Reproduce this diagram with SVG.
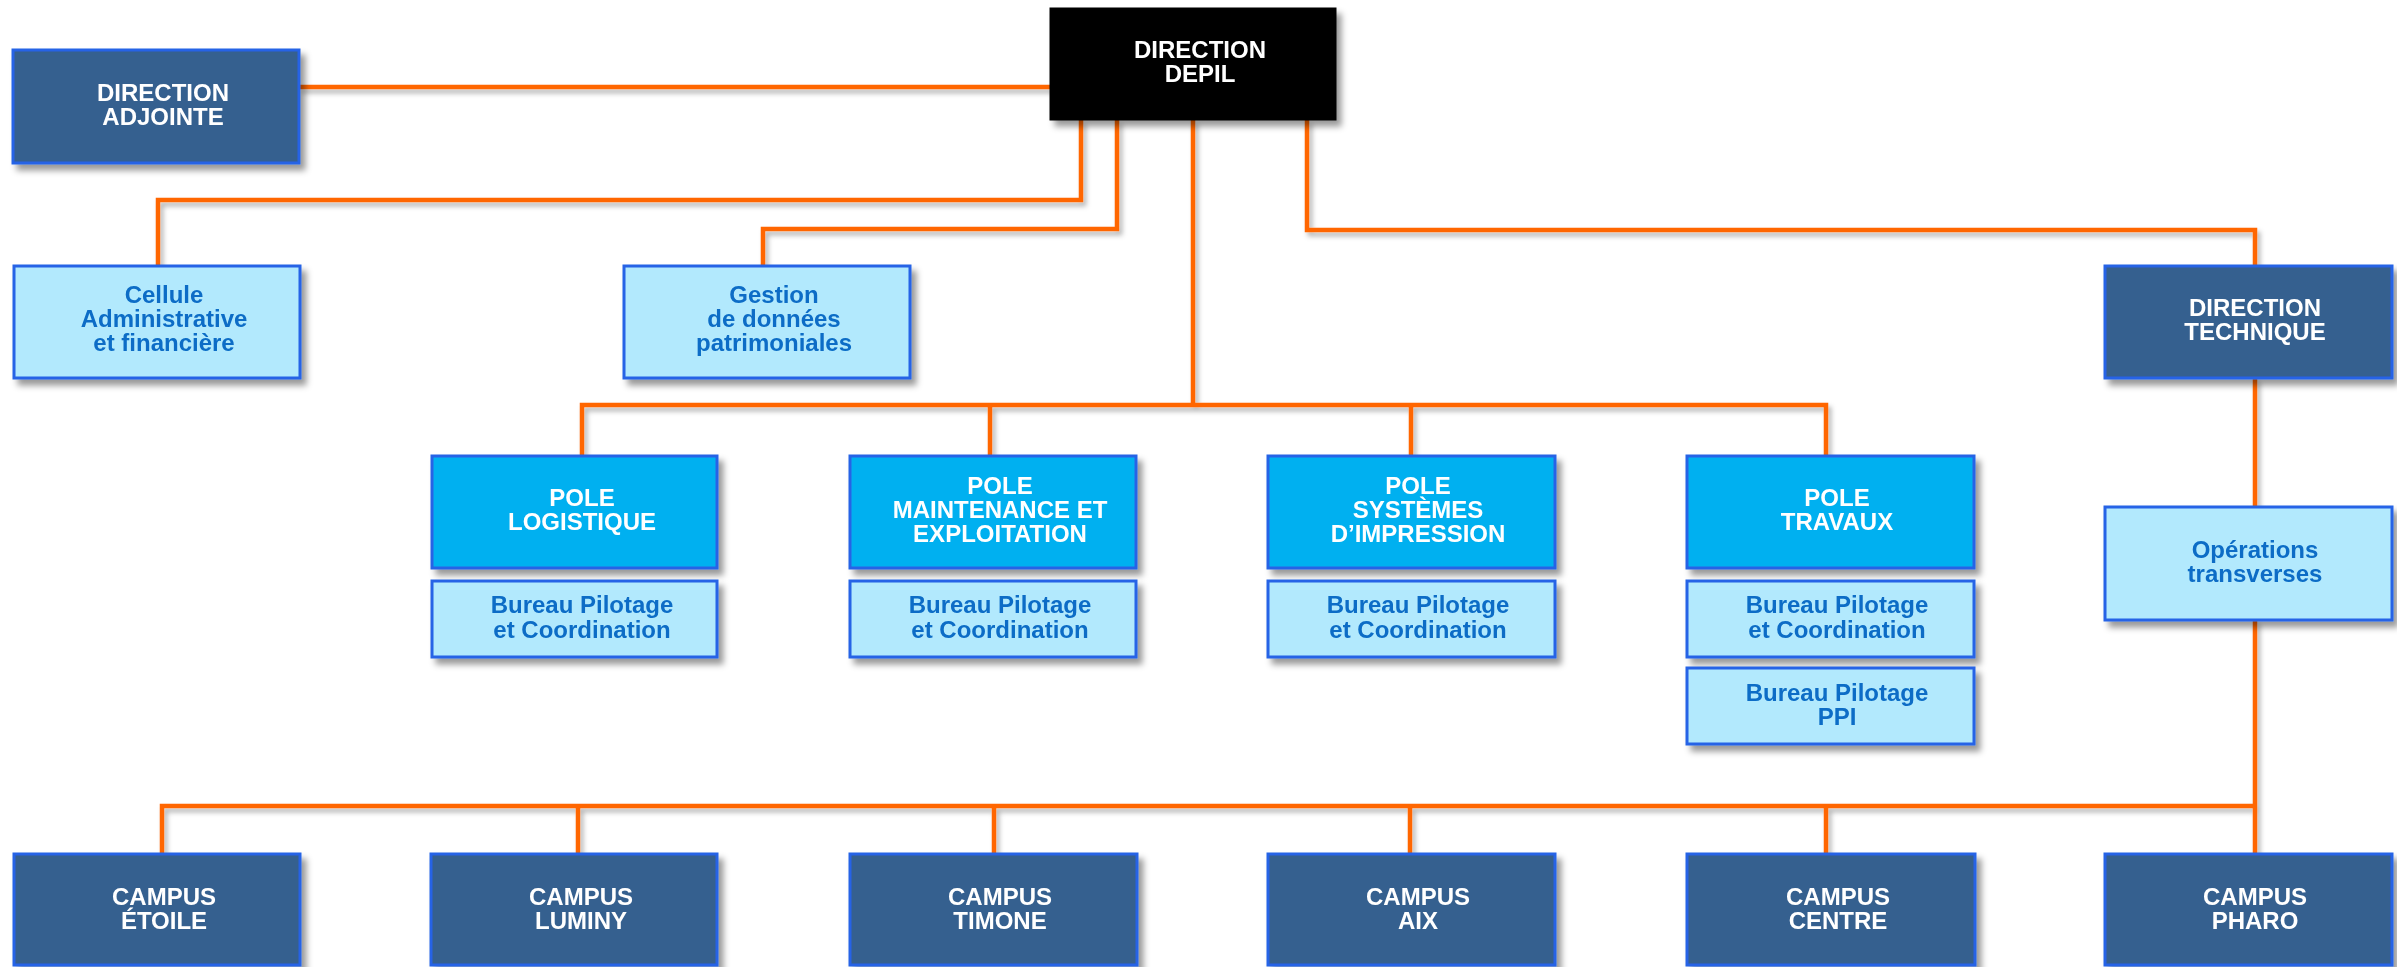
<svg xmlns="http://www.w3.org/2000/svg" width="2397" height="967" viewBox="0 0 2397 967">
<defs>
<filter id="sh" x="-10%" y="-10%" width="130%" height="140%">
<feDropShadow dx="5" dy="6" stdDeviation="3" flood-color="#000" flood-opacity="0.4"/>
</filter>
<filter id="lsh" x="-5%" y="-5%" width="110%" height="110%">
<feDropShadow dx="3" dy="4" stdDeviation="2.5" flood-color="#000" flood-opacity="0.3"/>
</filter>
<style>
.dark{fill:#36608F;stroke:#2563E6;stroke-width:3}
.black{fill:#000;stroke:#000;stroke-width:1}
.pole{fill:#00B0F0;stroke:#2563E6;stroke-width:3}
.light{fill:#B2E9FD;stroke:#2563E6;stroke-width:3}
text{font-family:"Liberation Sans",Arial,sans-serif;font-weight:bold;font-size:24px;text-anchor:middle}
.w{fill:#FFFFFF}
.b{fill:#0A6CC6}
.conn{fill:none;stroke:#FF6600;stroke-width:4.5;stroke-linejoin:miter}
</style>
</defs>
<rect width="2397" height="967" fill="#FFFFFF"/>
<g id="connectors" class="conn" filter="url(#lsh)">
<path d="M299,87 H1050"/>
<path d="M1081,120 V200 H158 V266"/>
<path d="M1117,120 V229 H763 V266"/>
<path d="M1193,120 V405"/>
<path d="M582,456 V405 H1826 V456"/>
<path d="M990,405 V456"/>
<path d="M1411,405 V456"/>
<path d="M1307,120 V230 H2255 V266"/>
<path d="M2255,378 V507"/>
<path d="M2255,620 V854"/>
<path d="M162,854 V806 H2255"/>
<path d="M578,806 V854"/>
<path d="M994,806 V854"/>
<path d="M1410,806 V854"/>
<path d="M1826,806 V854"/>
</g>
<g id="direction-depil" filter="url(#sh)">
<rect class="black" x="1050" y="8" width="286" height="112"/>
<text class="w" x="1200" y="58">DIRECTION</text>
<text class="w" x="1200" y="82">DEPIL</text>
</g>
<g id="direction-adjointe" filter="url(#sh)">
<rect class="dark" x="13" y="50" width="286" height="113"/>
<text class="w" x="163" y="101">DIRECTION</text>
<text class="w" x="163" y="125">ADJOINTE</text>
</g>
<g id="cellule" filter="url(#sh)">
<rect class="light" x="14" y="266" width="286" height="112"/>
<text class="b" x="164" y="303">Cellule</text>
<text class="b" x="164" y="327">Administrative</text>
<text class="b" x="164" y="351">et financière</text>
</g>
<g id="gestion" filter="url(#sh)">
<rect class="light" x="624" y="266" width="286" height="112"/>
<text class="b" x="774" y="303">Gestion</text>
<text class="b" x="774" y="327">de données</text>
<text class="b" x="774" y="351">patrimoniales</text>
</g>
<g id="direction-technique" filter="url(#sh)">
<rect class="dark" x="2105" y="266" width="287" height="112"/>
<text class="w" x="2255" y="316">DIRECTION</text>
<text class="w" x="2255" y="340">TECHNIQUE</text>
</g>
<g id="operations" filter="url(#sh)">
<rect class="light" x="2105" y="507" width="287" height="113"/>
<text class="b" x="2255" y="558">Opérations</text>
<text class="b" x="2255" y="582">transverses</text>
</g>
<g id="pole-logistique" filter="url(#sh)">
<rect class="pole" x="432" y="456" width="285" height="112"/>
<text class="w" x="582" y="506">POLE</text>
<text class="w" x="582" y="530">LOGISTIQUE</text>
</g>
<g id="bureau-logistique" filter="url(#sh)">
<rect class="light" x="432" y="581" width="285" height="76"/>
<text class="b" x="582" y="613">Bureau Pilotage</text>
<text class="b" x="582" y="638">et Coordination</text>
</g>
<g id="pole-maintenance" filter="url(#sh)">
<rect class="pole" x="850" y="456" width="286" height="112"/>
<text class="w" x="1000" y="494">POLE</text>
<text class="w" x="1000" y="518">MAINTENANCE ET</text>
<text class="w" x="1000" y="542">EXPLOITATION</text>
</g>
<g id="bureau-maintenance" filter="url(#sh)">
<rect class="light" x="850" y="581" width="286" height="76"/>
<text class="b" x="1000" y="613">Bureau Pilotage</text>
<text class="b" x="1000" y="638">et Coordination</text>
</g>
<g id="pole-systemes" filter="url(#sh)">
<rect class="pole" x="1268" y="456" width="287" height="112"/>
<text class="w" x="1418" y="494">POLE</text>
<text class="w" x="1418" y="518">SYSTÈMES</text>
<text class="w" x="1418" y="542">D’IMPRESSION</text>
</g>
<g id="bureau-systemes" filter="url(#sh)">
<rect class="light" x="1268" y="581" width="287" height="76"/>
<text class="b" x="1418" y="613">Bureau Pilotage</text>
<text class="b" x="1418" y="638">et Coordination</text>
</g>
<g id="pole-travaux" filter="url(#sh)">
<rect class="pole" x="1687" y="456" width="287" height="112"/>
<text class="w" x="1837" y="506">POLE</text>
<text class="w" x="1837" y="530">TRAVAUX</text>
</g>
<g id="bureau-travaux" filter="url(#sh)">
<rect class="light" x="1687" y="581" width="287" height="76"/>
<text class="b" x="1837" y="613">Bureau Pilotage</text>
<text class="b" x="1837" y="638">et Coordination</text>
</g>
<g id="bureau-ppi" filter="url(#sh)">
<rect class="light" x="1687" y="668" width="287" height="76"/>
<text class="b" x="1837" y="701">Bureau Pilotage</text>
<text class="b" x="1837" y="725">PPI</text>
</g>
<g id="campus-etoile" filter="url(#sh)">
<rect class="dark" x="14" y="854" width="286" height="111"/>
<text class="w" x="164" y="905">CAMPUS</text>
<text class="w" x="164" y="929">ÉTOILE</text>
</g>
<g id="campus-luminy" filter="url(#sh)">
<rect class="dark" x="431" y="854" width="286" height="111"/>
<text class="w" x="581" y="905">CAMPUS</text>
<text class="w" x="581" y="929">LUMINY</text>
</g>
<g id="campus-timone" filter="url(#sh)">
<rect class="dark" x="850" y="854" width="287" height="111"/>
<text class="w" x="1000" y="905">CAMPUS</text>
<text class="w" x="1000" y="929">TIMONE</text>
</g>
<g id="campus-aix" filter="url(#sh)">
<rect class="dark" x="1268" y="854" width="287" height="111"/>
<text class="w" x="1418" y="905">CAMPUS</text>
<text class="w" x="1418" y="929">AIX</text>
</g>
<g id="campus-centre" filter="url(#sh)">
<rect class="dark" x="1687" y="854" width="288" height="111"/>
<text class="w" x="1838" y="905">CAMPUS</text>
<text class="w" x="1838" y="929">CENTRE</text>
</g>
<g id="campus-pharo" filter="url(#sh)">
<rect class="dark" x="2105" y="854" width="287" height="111"/>
<text class="w" x="2255" y="905">CAMPUS</text>
<text class="w" x="2255" y="929">PHARO</text>
</g>
</svg>
